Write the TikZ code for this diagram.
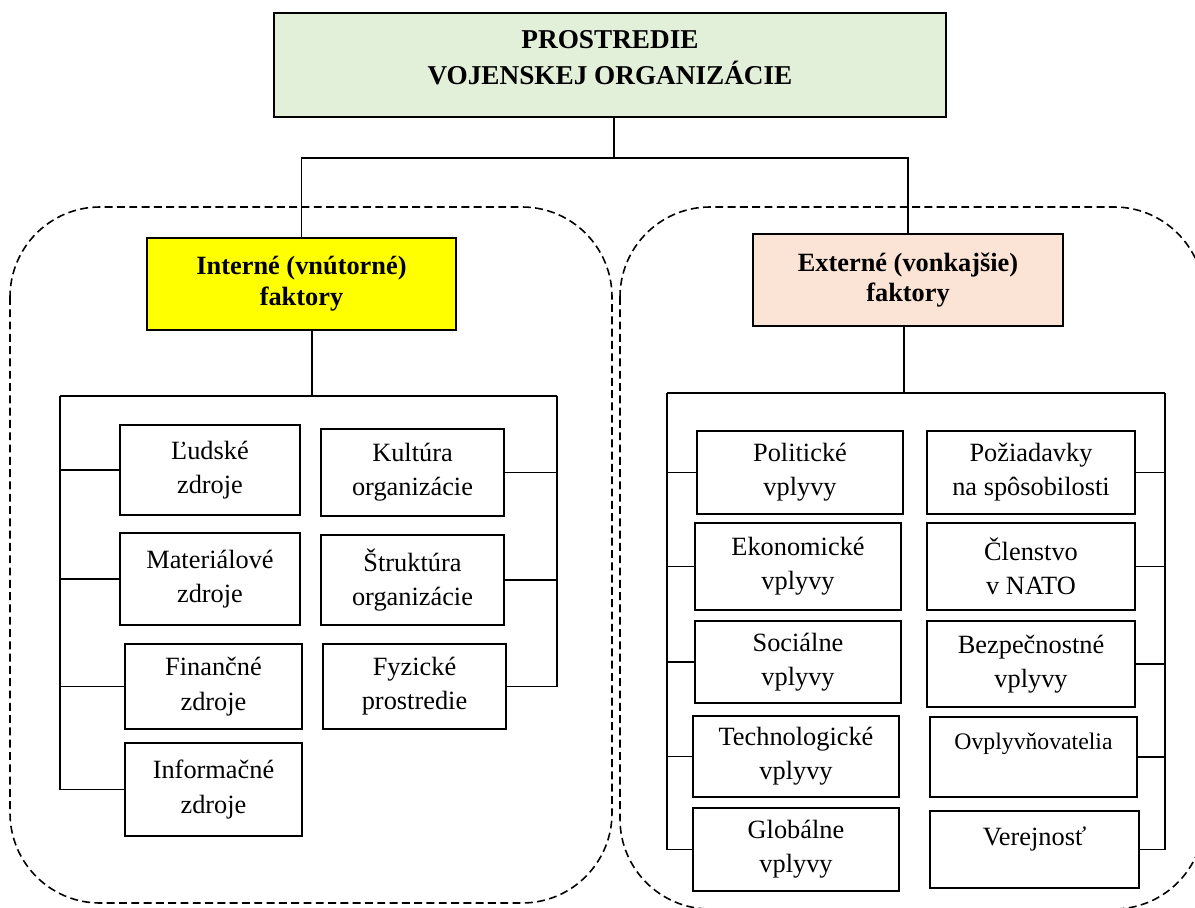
\documentclass[tikz,border=0pt]{standalone}
\usepackage{fontspec}
\setmainfont{Liberation Serif}
\definecolor{titlegreen}{HTML}{E2EFD9}
\definecolor{intyellow}{HTML}{FFFF00}
\definecolor{extpeach}{HTML}{FBE4D5}

\begin{document}
\begin{tikzpicture}[x=0.02cm, y=-0.02cm,
  every node/.style={inner sep=0pt, outer sep=0pt},
  % a box given by its left, top, right and bottom edges
  span/.style n args={4}{at={({(#1+#3)/2},{(#2+#4)/2})},
    minimum width={(#3-#1)*0.02cm}, minimum height={(#4-#2)*0.02cm}},
  frame/.style={draw, line width=1.1pt, align=center, fill=white},
  title/.style={frame, fill=titlegreen, font=\bfseries\fontsize{15.5}{20.5}\selectfont},
  factor/.style={frame, font=\bfseries\fontsize{15}{17.5}\selectfont},
  leaf/.style={frame, font=\fontsize{15}{19.5}\selectfont},
  link/.style={line width=1.1pt},
  zone/.style={draw, line width=0.9pt, dash pattern=on 4.5pt off 2.5pt, rounded corners=1.8cm}]

\clip (0,0) rectangle (1195,908);

% dashed groups
\draw[zone] (10,207) rectangle (612,903);
\draw[zone] (620,207) rectangle (1204,909);

% root
\node[title, span={274}{13}{946}{117}] (root) {PROSTREDIE\\VOJENSKEJ ORGANIZÁCIE\\[-12.5pt]\mbox{}};

% the two factor groups
\node[factor, fill=intyellow, span={147}{238}{456}{330}] (int) {Interné (vnútorné)\\faktory};
\node[factor, fill=extpeach, span={753}{234}{1063}{326}] (ext) {Externé (vonkajšie)\\faktory};

% internal factors
\node[leaf, span={120}{425}{300}{515}] (hum) {Ľudské\\zdroje};
\node[leaf, span={120}{533}{300}{625}] (mat) {Materiálové\\zdroje};
\node[leaf, span={125}{644}{302}{729}] (fin) {Finančné\\zdroje};
\node[leaf, span={125}{743}{302}{836}] (inf) {Informačné\\zdroje};
\node[leaf, span={321}{429}{504}{516}] (cul) {Kultúra\\organizácie};
\node[leaf, span={321}{535}{504}{625}] (str) {Štruktúra\\organizácie};
\node[leaf, span={323}{644}{506}{729}] (phy) {Fyzické\\prostredie};

% external factors
\node[leaf, span={697}{431}{903}{514}] (pol) {Politické\\vplyvy};
\node[leaf, span={695}{523}{901}{610}] (eko) {Ekonomické\\vplyvy};
\node[leaf, span={695}{621}{901}{703}] (soc) {Sociálne\\vplyvy};
\node[leaf, span={693}{716}{899}{797}] (tec) {Technologické\\vplyvy};
\node[leaf, span={693}{808}{899}{891}] (glo) {Globálne\\vplyvy};
\node[leaf, span={927}{431}{1135}{514}] (poz) {Požiadavky\\na spôsobilosti};
\node[leaf, span={927}{523}{1135}{610}] (cle) {Členstvo\\v NATO};
\node[leaf, span={927}{621}{1135}{707}] (bez) {Bezpečnostné\\vplyvy};
\node[leaf, font=\fontsize{13.5}{19.5}\selectfont, span={930}{717}{1137}{797}] (ovp) {Ovplyvňovatelia\\[-1pt]\mbox{}};
\node[leaf, span={930}{811}{1139}{888}] (ver) {Verejnosť\\[-4pt]\mbox{}};

% root to factor groups
\coordinate (hub) at (614,158);
\draw[link] (root.south -| hub) -- (hub);
\draw[link] (int.north) -- (int.north |- hub) -- (ext.north |- hub) -- (ext.north);

% internal tree
\coordinate (iHub) at (312,396);
\coordinate (iL) at (60,396);
\coordinate (iR) at (557,396);
\draw[link] (int.south -| iHub) -- (iHub);
\draw[link] (iL) -- (iR);
\draw[link] (iL) |- (inf.west);
\draw[link] (iR) |- (phy.east);
\foreach \n in {hum,mat,fin} \draw[link] (\n.west) -- (\n.west -| iL);
\foreach \n in {cul,str} \draw[link] (\n.east) -- (\n.east -| iR);

% external tree
\coordinate (eHub) at (904,393);
\coordinate (eL) at (667,393);
\coordinate (eR) at (1165,393);
\draw[link] (ext.south -| eHub) -- (eHub);
\draw[link] (eL) -- (eR);
\draw[link] (eL) |- (glo.west);
\draw[link] (eR) |- (ver.east);
\foreach \n in {pol,eko,soc,tec} \draw[link] (\n.west) -- (\n.west -| eL);
\foreach \n in {poz,cle,bez,ovp} \draw[link] (\n.east) -- (\n.east -| eR);
\end{tikzpicture}
\end{document}
